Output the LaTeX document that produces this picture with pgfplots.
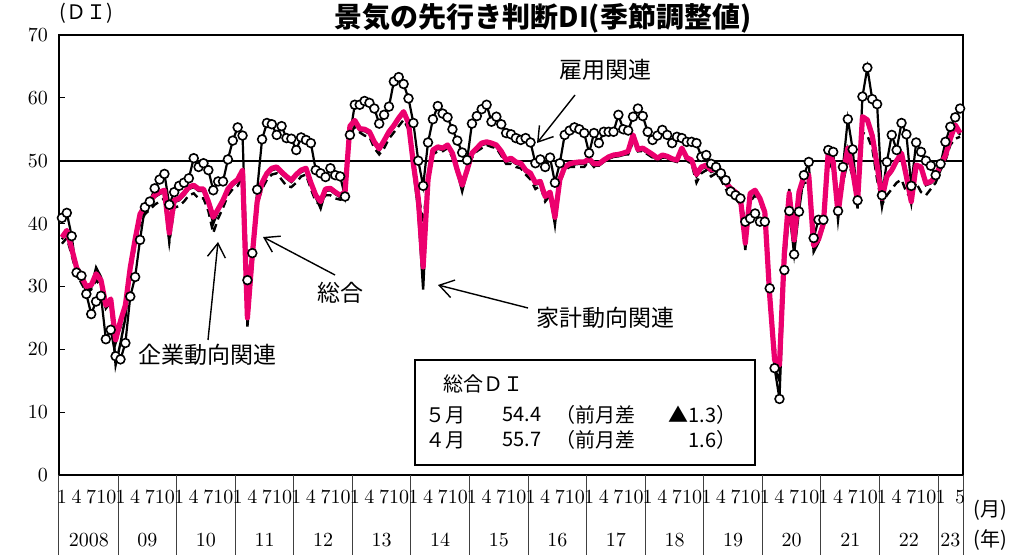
\documentclass[border=0pt]{standalone}
\usepackage{pgfplots}
\pgfplotsset{compat=1.18}
\usepackage{pgfplotstable}
\usetikzlibrary{arrows.meta}
\usepackage{fontspec}
\newfontfamily\jp{Noto Sans CJK JP}
\definecolor{pinkline}{RGB}{236,0,110}

% i = month index from Jan 2008; s = total, h = households, k = corporate, e = employment
\pgfplotstableread{
i s h k e
0 37.8 37.5 36.8 40.9
1 38.9 38.6 37.7 41.7
2 36.0 35.7 35.0 38.0
3 33.0 32.7 32.0 32.2
4 31.5 31.2 30.5 31.7
5 30.0 29.5 29.0 28.8
6 30.2 29.8 29.5 25.6
7 32.0 33.0 31.0 27.6
8 31.0 31.5 30.0 28.5
9 27.0 26.5 26.5 21.6
10 28.0 27.5 27.0 23.1
11 21.5 17.5 21.0 18.9
12 24.5 21.0 23.5 18.4
13 27.0 25.0 26.0 21.0
14 33.0 32.5 32.0 28.4
15 37.5 37.0 36.5 31.5
16 41.5 41.0 40.0 37.4
17 42.8 42.5 41.5 42.6
18 43.5 43.2 42.2 43.5
19 44.5 44.2 43.0 45.6
20 45.0 44.7 43.5 47.0
21 45.3 45.0 44.0 47.9
22 38.5 37.5 37.0 43.0
23 43.7 43.4 42.5 45.0
24 44.0 43.7 42.8 46.0
25 44.8 44.5 43.5 46.5
26 45.8 45.5 44.5 47.2
27 46.1 45.8 44.8 50.4
28 45.5 45.2 44.0 49.0
29 45.5 45.2 44.0 49.6
30 43.5 43.2 42.0 48.5
31 41.0 40.0 38.5 45.3
32 42.3 42.0 40.8 46.7
33 43.7 43.4 42.5 46.7
34 45.5 45.2 44.5 50.2
35 46.4 46.1 45.5 53.2
36 47.0 46.7 46.0 55.3
37 48.5 48.2 47.5 54.0
38 25.0 23.6 26.0 31.0
39 35.0 33.0 36.0 35.3
40 43.5 43.2 43.0 45.4
41 46.5 46.2 45.5 53.4
42 48.0 47.7 47.0 56.0
43 48.8 48.5 47.8 55.8
44 49.0 48.7 48.0 54.1
45 48.2 47.9 47.0 55.5
46 47.5 47.2 46.0 53.6
47 46.9 46.6 45.8 53.5
48 47.8 47.5 46.5 51.7
49 48.5 48.2 47.5 53.7
50 48.8 48.5 47.8 53.3
51 46.5 46.2 45.5 52.8
52 44.5 44.2 43.5 48.5
53 43.5 42.4 43.0 48.0
54 45.5 45.2 44.5 47.4
55 45.6 45.3 44.5 48.8
56 45.0 44.7 44.0 47.7
57 44.5 44.2 43.8 47.5
58 45.0 44.7 44.0 44.3
59 55.5 55.2 54.0 54.1
60 56.4 56.1 55.5 58.9
61 55.1 54.8 54.5 58.9
62 55.0 54.7 54.0 59.5
63 54.6 54.3 53.8 59.2
64 53.0 52.7 52.0 58.3
65 51.9 51.6 51.0 55.9
66 53.2 52.9 52.0 57.3
67 54.6 54.3 53.5 58.6
68 55.6 55.3 54.5 62.6
69 56.8 56.5 55.5 63.3
70 57.8 57.5 56.5 62.2
71 56.0 55.7 55.0 59.9
72 49.5 48.5 49.5 56.0
73 44.0 42.0 45.0 50.0
74 33.1 29.5 40.0 46.0
75 47.0 46.5 47.5 52.9
76 51.7 51.4 51.0 56.6
77 52.2 51.9 51.5 58.7
78 52.0 51.7 51.5 57.5
79 52.5 52.2 52.0 56.9
80 51.2 50.9 50.5 55.0
81 48.5 48.2 48.0 53.2
82 46.1 45.1 46.5 51.3
83 48.5 48.2 48.0 50.1
84 51.2 50.9 50.5 55.9
85 52.0 51.7 51.5 57.1
86 52.8 52.5 52.0 58.2
87 53.0 52.7 52.5 58.9
88 52.8 52.5 52.2 56.2
89 52.5 52.2 52.0 57.0
90 51.5 51.2 50.8 55.8
91 50.1 49.8 49.5 54.4
92 50.4 50.1 49.5 54.2
93 49.8 49.5 49.0 53.6
94 49.6 49.3 48.8 53.3
95 48.5 48.2 47.8 53.6
96 48.0 47.7 47.0 52.9
97 46.5 46.2 45.5 49.6
98 46.7 46.4 46.0 50.2
99 44.3 44.0 43.5 49.0
100 45.0 44.7 44.5 50.5
101 41.0 39.8 42.5 46.5
102 47.0 46.7 46.5 49.6
103 49.0 48.7 48.5 54.1
104 49.5 49.2 49.0 54.8
105 49.7 49.4 49.0 55.3
106 49.8 49.5 49.0 55.0
107 49.8 49.5 49.0 54.4
108 50.3 50.0 50.0 51.2
109 49.5 49.2 49.0 54.4
110 49.5 49.2 49.5 52.8
111 50.1 49.8 50.0 54.6
112 50.6 50.3 50.5 54.6
113 50.9 50.6 51.0 54.6
114 51.0 50.7 51.0 57.3
115 51.2 50.9 51.0 55.0
116 51.5 51.2 51.0 54.8
117 54.1 53.8 53.0 57.0
118 51.8 51.5 51.5 58.3
119 52.0 51.7 51.5 57.1
120 51.5 51.2 51.0 54.6
121 51.0 50.7 50.5 53.3
122 50.4 50.1 50.0 54.0
123 50.9 50.6 50.5 54.9
124 50.7 50.4 50.5 54.1
125 50.3 50.0 50.0 52.8
126 50.1 49.8 50.0 53.8
127 52.0 51.7 51.5 53.6
128 50.5 50.2 50.0 53.0
129 50.1 49.8 49.5 53.0
130 47.8 47.5 46.5 52.8
131 49.0 48.7 48.0 50.6
132 49.3 49.0 48.5 50.9
133 48.5 48.2 47.5 49.5
134 48.8 48.5 48.0 49.0
135 48.3 48.0 47.0 48.0
136 46.5 46.2 45.5 46.9
137 45.6 45.3 44.5 45.1
138 45.0 44.7 44.0 44.5
139 44.0 43.7 43.0 44.0
140 36.9 35.8 38.0 40.3
141 44.8 44.5 43.5 40.8
142 45.3 45.0 44.5 41.6
143 44.0 43.7 43.5 40.3
144 41.8 41.5 41.0 40.3
145 28.5 27.0 29.5 29.7
146 18.3 17.0 20.0 17.0
147 17.5 15.0 19.0 12.1
148 35.3 35.0 35.5 32.6
149 44.8 45.5 42.0 42.0
150 37.4 36.0 38.0 35.1
151 45.0 44.7 43.5 41.9
152 47.5 47.2 46.5 47.7
153 47.7 47.4 46.5 49.8
154 36.5 35.5 37.0 37.7
155 37.5 37.0 38.0 40.6
156 40.0 39.5 40.0 40.6
157 51.5 51.2 50.0 51.7
158 49.8 49.5 48.5 51.4
159 41.6 40.6 42.5 42.0
160 47.6 47.3 46.5 49.0
161 52.0 51.7 50.0 56.6
162 48.4 48.1 47.5 51.8
163 43.5 42.4 44.0 43.7
164 57.0 56.7 54.5 60.2
165 56.5 56.2 54.0 64.8
166 54.0 53.7 52.0 59.8
167 49.3 49.0 47.0 59.0
168 44.0 42.7 43.0 44.5
169 47.5 47.2 44.5 49.8
170 48.5 48.2 45.5 54.1
171 50.0 49.7 46.5 51.7
172 51.2 50.9 47.0 56.0
173 47.5 47.2 45.0 54.2
174 43.5 43.2 44.0 46.0
175 49.3 49.0 46.5 52.9
176 49.0 48.7 45.0 51.4
177 46.4 46.1 44.5 50.0
178 46.7 46.4 45.5 49.2
179 47.5 47.2 46.5 47.7
180 49.4 49.1 48.5 49.5
181 50.8 50.5 50.0 53.0
182 53.5 53.2 52.5 55.4
183 55.7 55.4 53.5 56.9
184 54.4 54.1 53.8 58.3
}\data

\begin{document}
\begin{tikzpicture}
\path[use as bounding box] (0,0) rectangle (515.5pt,277.5pt);

\begin{axis}[
  at={(29.5pt,40pt)}, anchor=south west,
  scale only axis, width=452pt, height=220pt,
  xmin=-0.6, xmax=184.6, ymin=0, ymax=70,
  xtick=\empty,
  ytick={0,10,...,70}, ytick pos=left,
  major tick length=3pt, tick align=inside,
  ytick style={line width=0.6pt, black},
  yticklabel style={font=\fontsize{10}{12}\selectfont, xshift=-2pt},
  axis line style={line width=1.2pt},
  extra y ticks={50}, extra y tick labels={},
  extra y tick style={grid=major, major grid style={black, line width=1pt}},
  clip=false,
]
  \addplot[black, line width=1.2pt, dash pattern=on 4pt off 2.5pt] table[x=i,y=k]{\data};
  \addplot[black, line width=1.2pt] table[x=i,y=h]{\data};
  \addplot[black, line width=1.1pt, mark=*, mark size=2.2pt,
    mark options={fill=white, draw=black, line width=0.8pt, solid}] table[x=i,y=e]{\data};
  \addplot[pinkline, line width=2.6pt, line join=round] table[x=i,y=s]{\data};

  % year separators below the axis
  \pgfplotsinvokeforeach{1,...,15}{
    \draw[black!75, line width=0.5pt] (axis cs:{12*#1-0.5},0) -- (axis cs:{12*#1-0.5},-12.9);
  }
  \draw[black!75, line width=0.5pt] (axis cs:-0.6,0) -- (axis cs:-0.6,-12.9);
  \draw[black!75, line width=0.5pt] (axis cs:184.6,0) -- (axis cs:184.6,-12.9);

  % month labels
  \pgfplotsinvokeforeach{0,...,14}{
    \node[font=\fontsize{10}{12}\selectfont, inner sep=0pt] at (axis cs:{12*#1},-3.5) {1};
    \node[font=\fontsize{10}{12}\selectfont, inner sep=0pt] at (axis cs:{12*#1+3},-3.5) {4};
    \node[font=\fontsize{10}{12}\selectfont, inner sep=0pt] at (axis cs:{12*#1+6},-3.5) {7};
    \node[font=\fontsize{10}{12}\selectfont, inner sep=0pt] at (axis cs:{12*#1+9.1},-3.5) {10};
  }
  \node[font=\fontsize{10}{12}\selectfont, inner sep=0pt] at (axis cs:180,-3.5) {1};
  \node[font=\fontsize{10}{12}\selectfont, inner sep=0pt] at (axis cs:184,-3.5) {5};

  % year labels
  \node[font=\fontsize{10}{12}\selectfont, inner sep=0pt] at (axis cs:5.5,-10.3) {2008};
  \node[font=\fontsize{10}{12}\selectfont, inner sep=0pt] at (axis cs:17.5,-10.3) {09};
  \node[font=\fontsize{10}{12}\selectfont, inner sep=0pt] at (axis cs:29.5,-10.3) {10};
  \node[font=\fontsize{10}{12}\selectfont, inner sep=0pt] at (axis cs:41.5,-10.3) {11};
  \node[font=\fontsize{10}{12}\selectfont, inner sep=0pt] at (axis cs:53.5,-10.3) {12};
  \node[font=\fontsize{10}{12}\selectfont, inner sep=0pt] at (axis cs:65.5,-10.3) {13};
  \node[font=\fontsize{10}{12}\selectfont, inner sep=0pt] at (axis cs:77.5,-10.3) {14};
  \node[font=\fontsize{10}{12}\selectfont, inner sep=0pt] at (axis cs:89.5,-10.3) {15};
  \node[font=\fontsize{10}{12}\selectfont, inner sep=0pt] at (axis cs:101.5,-10.3) {16};
  \node[font=\fontsize{10}{12}\selectfont, inner sep=0pt] at (axis cs:113.5,-10.3) {17};
  \node[font=\fontsize{10}{12}\selectfont, inner sep=0pt] at (axis cs:125.5,-10.3) {18};
  \node[font=\fontsize{10}{12}\selectfont, inner sep=0pt] at (axis cs:137.5,-10.3) {19};
  \node[font=\fontsize{10}{12}\selectfont, inner sep=0pt] at (axis cs:149.5,-10.3) {20};
  \node[font=\fontsize{10}{12}\selectfont, inner sep=0pt] at (axis cs:161.5,-10.3) {21};
  \node[font=\fontsize{10}{12}\selectfont, inner sep=0pt] at (axis cs:173.5,-10.3) {22};
  \node[font=\fontsize{10}{12}\selectfont, inner sep=0pt] at (axis cs:182,-10.3) {23};
\end{axis}

% titles and labels
\node[font=\jp\bfseries\fontsize{14}{16}\selectfont] at (271.5pt,268.5pt) {景気の先行き判断DI(季節調整値)};
\node[font=\jp\fontsize{10}{12}\selectfont] at (43pt,271pt) {(ＤＩ)};
\node[font=\jp\fontsize{10}{12}\selectfont] at (495pt,22.5pt) {(月)};
\node[font=\jp\fontsize{10}{12}\selectfont] at (495pt,7.5pt) {(年)};

% annotations
\node[font=\jp\fontsize{11.5}{13}\selectfont] at (302.5pt,242.5pt) {雇用関連};
\draw[line width=0.7pt, -{Straight Barb[length=7pt,width=9pt]}] (287.5pt,230pt) -- (268.5pt,206pt);
\node[font=\jp\fontsize{11.5}{13}\selectfont] at (170pt,131pt) {総合};
\draw[line width=0.7pt, -{Straight Barb[length=7pt,width=9pt]}] (167.5pt,140pt) -- (131.5pt,159pt);
\node[font=\jp\fontsize{11.5}{13}\selectfont] at (302.5pt,118.5pt) {家計動向関連};
\draw[line width=0.7pt, -{Straight Barb[length=7pt,width=9pt]}] (264pt,123.5pt) -- (219pt,135pt);
\node[font=\jp\fontsize{11.5}{13}\selectfont] at (103.5pt,100pt) {企業動向関連};
\draw[line width=0.7pt, -{Straight Barb[length=7pt,width=9pt]}] (104pt,107.5pt) -- (109pt,156.5pt);

% summary box
\draw[line width=0.8pt, fill=white] (207.5pt,45pt) rectangle (377.5pt,97.5pt);
\node[font=\jp\fontsize{10}{12}\selectfont, anchor=west, inner sep=0pt] at (221.5pt,85.5pt) {総合ＤＩ};
\node[font=\jp\fontsize{10}{12}\selectfont, anchor=west, inner sep=0pt] at (212.5pt,70pt) {５月};
\node[font=\jp\fontsize{10}{12}\selectfont, anchor=west, inner sep=0pt] at (251pt,70pt) {54.4};
\node[font=\jp\fontsize{10}{12}\selectfont, anchor=west, inner sep=0pt] at (277.5pt,70pt) {（前月差};
\node[font=\jp\fontsize{10}{12}\selectfont, anchor=east, inner sep=0pt] at (368.5pt,70pt) {▲1.3）};
\node[font=\jp\fontsize{10}{12}\selectfont, anchor=west, inner sep=0pt] at (212.5pt,57.5pt) {４月};
\node[font=\jp\fontsize{10}{12}\selectfont, anchor=west, inner sep=0pt] at (251pt,57.5pt) {55.7};
\node[font=\jp\fontsize{10}{12}\selectfont, anchor=west, inner sep=0pt] at (277.5pt,57.5pt) {（前月差};
\node[font=\jp\fontsize{10}{12}\selectfont, anchor=east, inner sep=0pt] at (368.5pt,57.5pt) {1.6）};
\end{tikzpicture}
\end{document}
